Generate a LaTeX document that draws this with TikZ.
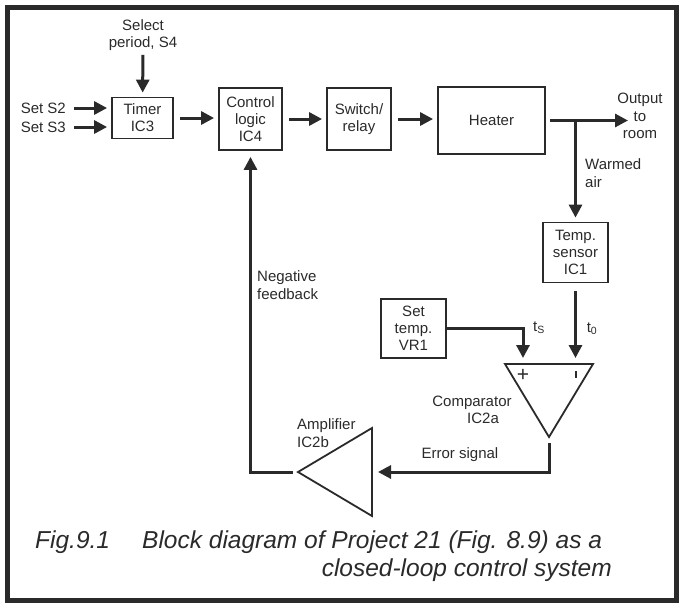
\documentclass[tikz,border=0pt]{standalone}
\usepackage{fontspec}
\setmainfont{Liberation Sans}
\usepackage{tikz}
\usetikzlibrary{arrows.meta}
\definecolor{Ink}{HTML}{2A2A2A}

\begin{document}
\begin{tikzpicture}[x=1pt,y=-1pt,color=Ink,
  blk/.style={draw,line width=1.8pt,align=center,inner sep=0pt,font=\fontsize{15}{17}\selectfont},
  lbl/.style={align=center,inner sep=0pt,font=\fontsize{15}{17.5}\selectfont},
  captxt/.style={inner sep=0pt,font=\fontsize{24.5}{28}\selectfont\itshape},
  flow/.style={line width=3pt,-{Triangle[length=13pt,width=13pt]},shorten >=4pt},
  tri/.style={line width=1.8pt,line join=miter}]
\useasboundingbox (0,0) rectangle (681,606);
\draw[line width=5pt] (7,7) rectangle (676,600);
% blocks
\node[blk,minimum width=61pt,minimum height=41pt] (timer) at (142.5,118) {Timer\\IC3};
\node[blk,minimum width=63pt,minimum height=62pt] (logic) at (250.5,119) {Control\\logic\\IC4};
\node[blk,minimum width=64pt,minimum height=62pt] (switch) at (359,119) {Switch/\\relay};
\node[blk,minimum width=107pt,minimum height=67pt] (heater) at (491.5,120.5) {Heater};
\node[blk,minimum width=65pt,minimum height=60pt] (sensor) at (575.5,252.5) {Temp.\\sensor\\IC1};
\node[blk,minimum width=65pt,minimum height=59pt] (settemp) at (413.5,328.5) {Set\\temp.\\VR1};
% comparator and amplifier
\coordinate (cmpA) at (505,364);
\coordinate (cmpB) at (593,364);
\coordinate (cmpC) at (549,437);
\draw[tri] (cmpA) -- (cmpB) -- (cmpC) -- cycle;
\node[lbl,font=\fontsize{21}{21}\selectfont] (plus) at (523,375) {+};
\draw[line width=1.5pt] (576,371) -- (576,378);
\coordinate (ampA) at (372,428);
\coordinate (ampB) at (372,516);
\coordinate (ampC) at (298,472);
\draw[tri] (ampA) -- (ampB) -- (ampC) -- cycle;
% labels
\node[lbl] (period) at (143,35) {Select\\period, S4};
\node[lbl,anchor=east] (s2) at (66,108) {Set S2};
\node[lbl,anchor=east] (s3) at (66,127) {Set S3};
\node[lbl] (room) at (640,116) {Output\\to\\room};
\node[lbl,align=left,anchor=west] (warm) at (585,173) {Warmed\\air};
\node[lbl,align=left,anchor=west] (neg) at (257,285) {Negative\\feedback};
\node[lbl,align=left,anchor=west] (ampl) at (297,433) {Amplifier\\IC2b};
\node[lbl] (cmpl) at (472,410) {Comparator\\\hspace*{22pt}IC2a};
\node[lbl] (err) at (460,455) {Error signal};
\node[lbl] (ts) at (539,328) {t\textsubscript{S}};
\node[lbl] (t0) at (592,329) {t\textsubscript{0}};
% connectors
\coordinate (out) at (628,120.5);
\coordinate (tap) at (sensor.north |- heater.east);
\coordinate (cmpP) at (523,364);
\coordinate (cmpM) at (sensor.south |- cmpA);
\coordinate (ampIn) at (ampA |- ampC);
\draw[flow,shorten <=4pt] (period) -- (timer);
\draw[flow,shorten <=8pt] (s2.east) -- (s2.east -| timer.west);
\draw[flow,shorten <=8pt] (s3.east) -- (s3.east -| timer.west);
\draw[flow,shorten <=6pt] (timer.east) -- (timer.east -| logic.west);
\draw[flow,shorten <=6pt] (logic.east) -- (logic.east -| switch.west);
\draw[flow,shorten <=6pt] (switch.east) -- (switch.east -| heater.west);
\draw[flow,shorten <=4pt,shorten >=0pt] (heater.east) -- (out);
\draw[flow] (tap) -- (sensor.north);
\draw[flow,shorten <=8pt,shorten >=6pt] (sensor.south) -- (cmpM);
\draw[flow,shorten >=6pt] (settemp.east) -| (cmpP);
\draw[flow,shorten <=6pt,shorten >=6pt] (cmpC) |- (ampIn);
\draw[flow,shorten <=5pt,shorten >=6pt] (ampC) -| (logic.south);
% caption
\node[captxt,anchor=west] (fig) at (35,542) {Fig.9.1};
\node[captxt,anchor=west] (capA) at (142,542) {Block diagram of Project 21 (Fig. 8.9) as a};
\node[captxt,anchor=east] (capB) at (612,570) {closed-loop control system};
\end{tikzpicture}
\end{document}
